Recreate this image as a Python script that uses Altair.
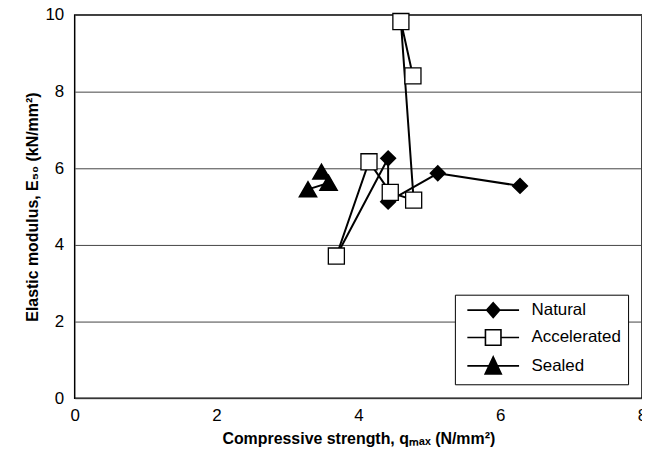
import altair as alt
import pandas as pd

series_names = ["Natural", "Accelerated", "Sealed"]

natural_x = [3.69, 4.42, 4.42, 5.12, 6.28]
natural_y = [3.71, 6.26, 5.13, 5.87, 5.54]

accel_x = [3.69, 4.15, 4.45, 4.78, 4.60, 4.77]
accel_y = [3.71, 6.17, 5.37, 5.17, 9.83, 8.41]

sealed_x = [3.48, 3.58, 3.29]
sealed_y = [5.91, 5.62, 5.45]

# marker visibility (natural first point sits behind the square)
natural_marker = [False, True, True, True, True]

nat = pd.DataFrame({"x": natural_x, "y": natural_y, "order": range(len(natural_x)),
                    "series": "Natural", "marker": natural_marker})
acc = pd.DataFrame({"x": accel_x, "y": accel_y, "order": range(len(accel_x)),
                    "series": "Accelerated", "marker": True})
sea = pd.DataFrame({"x": sealed_x, "y": sealed_y, "order": range(len(sealed_x)),
                    "series": "Sealed", "marker": True})

xs = alt.Scale(domain=[0, 8], nice=False)
ys = alt.Scale(domain=[0, 10], nice=False)

X = alt.X("x:Q", scale=xs, axis=alt.Axis(
    title="Compressive strength, qₘₐₓ (N/mm²)", values=[0, 2, 4, 6, 8], format="d",
    grid=False, ticks=False, domain=False, labelFontSize=17, labelPadding=9,
    labelFlush=False,
    titleFontSize=16, titleFontWeight="bold", titlePadding=8,
    labelFont="Liberation Sans", titleFont="Liberation Sans", labelColor="black",
    titleColor="black"))
Y = alt.Y("y:Q", scale=ys, axis=alt.Axis(
    title="Elastic modulus, E₅₀ (kN/mm²)", values=[0, 2, 4, 6, 8, 10], format="d",
    grid=True, gridColor="#444444", gridWidth=1, ticks=False, domain=False,
    labelFlush=False,
    labelFontSize=17, labelPadding=11, titleFontSize=16, titleFontWeight="bold",
    titlePadding=4, labelFont="Liberation Sans", titleFont="Liberation Sans",
    labelColor="black", titleColor="black"))

def lines(df):
    return alt.Chart(df).mark_line(color="black", strokeWidth=2).encode(
        x=X, y=Y, order="order:Q")

nat_line = lines(nat)
acc_line = lines(acc)
sea_line = lines(sea)

nat_pts = alt.Chart(nat[nat["marker"]]).mark_point(
    shape="diamond", filled=True, fill="black", stroke="black", size=200, opacity=1
).encode(x="x:Q", y="y:Q")
acc_pts = alt.Chart(acc).mark_point(
    shape="square", filled=True, fill="white", stroke="black", strokeWidth=1.3,
    size=260, opacity=1
).encode(x="x:Q", y="y:Q")
sea_pts = alt.Chart(sea).mark_point(
    shape="triangle-up", filled=True, fill="black", stroke="black", size=270, opacity=1
).encode(x="x:Q", y="y:Q")

legend_paths = [
    "M-4.33,0L4.33,0M0,-1.25L1.1,0L0,1.25L-1.1,0Z",
    "M-4.33,0L-1.3,0M1.3,0L4.33,0M-1.3,-1.3L1.3,-1.3L1.3,1.3L-1.3,1.3Z",
    "M-4.33,0L4.33,0M0,-1.5L1.35,1.35L-1.35,1.35Z",
]

legend_layer = alt.Chart(pd.concat([nat, acc, sea])).transform_filter(
    "datum.order < 0"
).mark_point(filled=True, opacity=1, strokeWidth=1.6).encode(
    x="x:Q", y="y:Q",
    shape=alt.Shape("series:N", scale=alt.Scale(domain=series_names, range=legend_paths),
                    legend=alt.Legend(
                        title=None, orient="bottom-right", offset=14,
                        strokeColor="black", fillColor="white", padding=7,
                        symbolSize=144, symbolStrokeWidth=1.6,
                        symbolOffset=23, labelOffset=30, labelFontSize=17,
                        labelFont="Liberation Sans", labelColor="black",
                        rowPadding=4.5, labelLimit=300)),
    fill=alt.Fill("series:N", scale=alt.Scale(domain=series_names,
                                             range=["black", "white", "black"]),
                  legend=alt.Legend(title=None, orient="bottom-right")),
    stroke=alt.Stroke("series:N", scale=alt.Scale(domain=series_names,
                                                 range=["black", "black", "black"]),
                      legend=alt.Legend(title=None, orient="bottom-right")),
)

chart = alt.layer(
    legend_layer, nat_line, acc_line, sea_line, nat_pts, acc_pts, sea_pts
).properties(
    width=570, height=385,
    autosize=alt.AutoSizeParams(type="none"),
    padding={"left": 67, "top": 6, "right": 0, "bottom": 53},
).configure_view(stroke="black", strokeWidth=1.5)

chart.save("out.html", embed_options={"renderer": "svg", "actions": False})
